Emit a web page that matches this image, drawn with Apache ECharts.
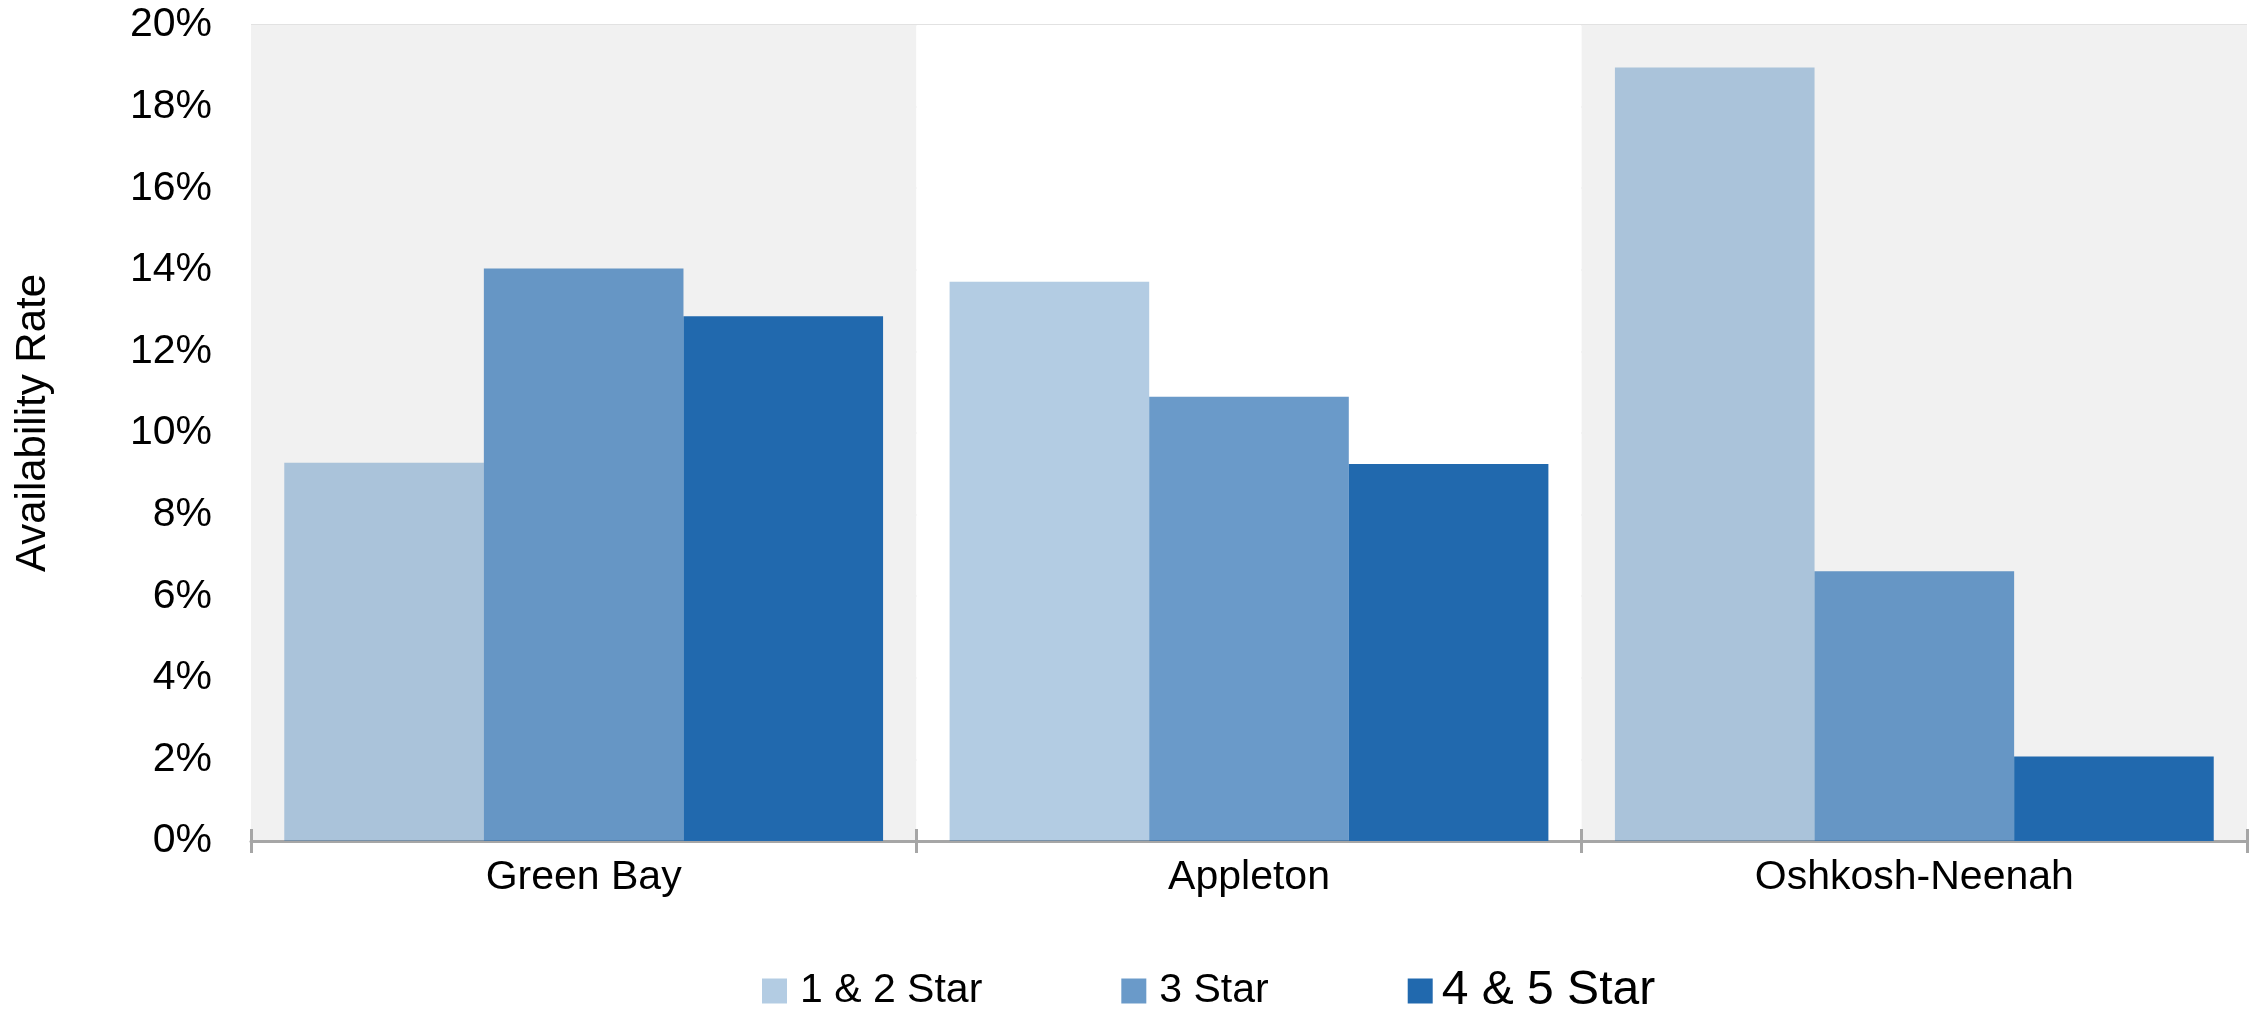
<!DOCTYPE html>
<html>
<head>
<meta charset="utf-8">
<script src="https://cdn.jsdelivr.net/npm/echarts@6/dist/echarts.min.js"></script>
<style>
  html, body { margin: 0; padding: 0; background: #fff; }
  #chart { width: 2262px; height: 1012px; }
</style>
</head>
<body>
<div id="chart"></div>
<script>
// Markets on the category axis
const markets = ['Green Bay', 'Appleton', 'Oshkosh-Neenah'];

// Availability rate (%) by hotel class
const star12 = [9.27, 13.71, 18.96];
const star3 = [14.03, 10.89, 6.61];
const star45 = [12.86, 9.24, 2.07];

// Value axis range
const yMin = 0;
const yMax = 20;
const yStep = 2;

const seriesNames = ['1 & 2 Star', '3 Star', '4 & 5 Star'];

const FONT = '"Liberation Sans", Arial, sans-serif';
const BASE = '#2169ae';
const AXIS_GRAY = '#a6a6a6';

const chart = echarts.init(document.getElementById('chart'), null, { renderer: 'canvas' });

function barSeries(name, values, opacity) {
  return {
    name: name,
    type: 'bar',
    xAxisIndex: 0,
    data: values,
    barGap: '0%',
    barCategoryGap: '10%',
    itemStyle: { color: BASE, opacity: opacity },
    emphasis: { disabled: true }
  };
}

chart.setOption({
  animation: false,
  backgroundColor: '#ffffff',
  textStyle: { fontFamily: FONT },
  grid: { left: 251, right: 15, top: 25, bottom: 171, containLabel: false },
  legend: {
    data: seriesNames,
    left: 757,
    top: 962,
    itemWidth: 25,
    itemHeight: 25,
    itemGap: 139,
    icon: 'rect',
    selectedMode: false,
    formatter: function (n) {
      return n === '4 & 5 Star' ? '{big|' + n + '}' : '{n|' + n + '}';
    },
    textStyle: {
      fontFamily: FONT,
      color: '#000',
      rich: {
        n: { fontSize: 41, fontFamily: FONT, color: '#000', padding: [0, 0, 0, 8] },
        big: { fontSize: 48, fontFamily: FONT, color: '#000', padding: [0, 0, 0, 4] }
      }
    }
  },
  xAxis: [
    {
      type: 'category',
      data: markets,
      boundaryGap: true,
      axisLine: { show: true, lineStyle: { color: AXIS_GRAY, width: 3 } },
      axisTick: { show: true, length: 12, lineStyle: { color: AXIS_GRAY, width: 3 } },
      axisLabel: { color: '#000', fontSize: 41, fontFamily: FONT, margin: 16 },
      splitArea: { show: true, areaStyle: { color: ['#f1f1f1', '#ffffff'] } },
      splitLine: { show: false }
    },
    {
      // second copy of the axis draws the tick halves above the baseline
      type: 'category',
      data: markets,
      position: 'bottom',
      boundaryGap: true,
      axisLine: { show: false },
      axisTick: { show: true, inside: true, length: 12, lineStyle: { color: AXIS_GRAY, width: 3 } },
      axisLabel: { show: false },
      splitArea: { show: false },
      splitLine: { show: false }
    }
  ],
  yAxis: {
    type: 'value',
    min: yMin,
    max: yMax,
    interval: yStep,
    name: 'Availability Rate',
    nameLocation: 'middle',
    nameGap: 197,
    nameRotate: 90,
    nameTextStyle: { color: '#000', fontSize: 42, fontFamily: FONT, padding: [0, 0, 0, 20] },
    axisLine: { show: false },
    axisTick: { show: false },
    axisLabel: {
      color: '#000',
      fontSize: 41,
      fontFamily: FONT,
      margin: 39,
      formatter: '{value}%'
    },
    splitLine: { show: true, lineStyle: { color: '#e2e2e2', width: 2 } }
  },
  series: [
    barSeries(seriesNames[0], star12, 0.34),
    barSeries(seriesNames[1], star3, 0.67),
    barSeries(seriesNames[2], star45, 1)
  ]
});
</script>
</body>
</html>
